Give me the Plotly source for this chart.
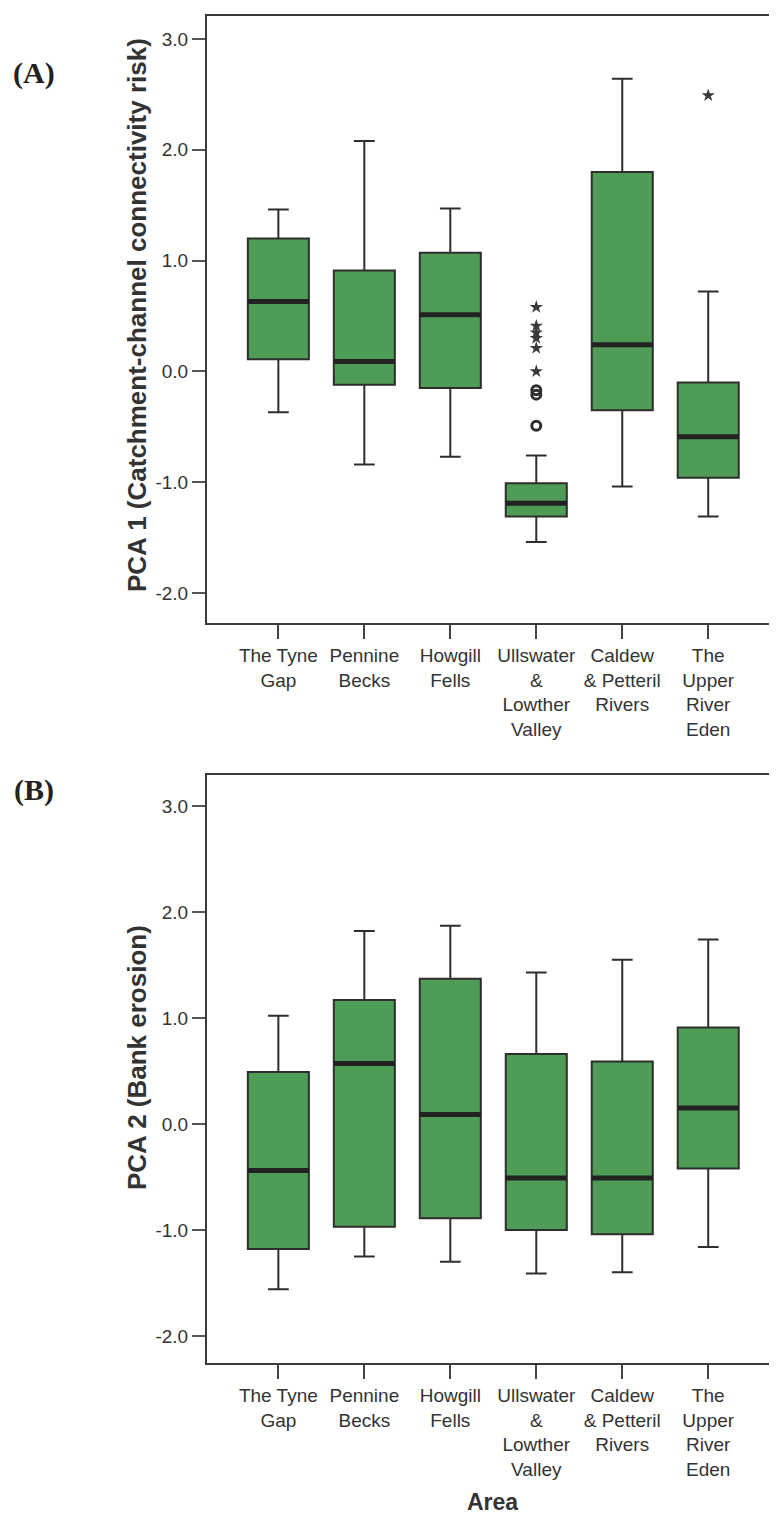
import plotly.graph_objects as go

# categories (x axis)
areas = ["The Tyne<br>Gap", "Pennine<br>Becks", "Howgill<br>Fells",
         "Ullswater<br>&<br>Lowther<br>Valley", "Caldew<br>& Petteril<br>Rivers",
         "The<br>Upper<br>River<br>Eden"]

# panel (A) - PCA 1 box statistics
pca1_low = [-0.37, -0.84, -0.77, -1.54, -1.04, -1.31]
pca1_q1 = [0.11, -0.12, -0.15, -1.31, -0.35, -0.96]
pca1_med = [0.63, 0.09, 0.51, -1.19, 0.24, -0.59]
pca1_q3 = [1.20, 0.91, 1.07, -1.01, 1.80, -0.10]
pca1_high = [1.46, 2.08, 1.47, -0.76, 2.64, 0.72]
# outliers (area index, value)
pca1_circ_idx = [3, 3, 3]
pca1_circ = [-0.49, -0.17, -0.21]
pca1_star_idx = [3, 3, 3, 3, 3, 3, 5]
pca1_star = [0.00, 0.21, 0.30, 0.35, 0.41, 0.58, 2.49]

# panel (B) - PCA 2 box statistics
pca2_low = [-1.56, -1.25, -1.30, -1.41, -1.40, -1.16]
pca2_q1 = [-1.18, -0.97, -0.89, -1.00, -1.04, -0.42]
pca2_med = [-0.44, 0.57, 0.09, -0.51, -0.51, 0.15]
pca2_q3 = [0.49, 1.17, 1.37, 0.66, 0.59, 0.91]
pca2_high = [1.02, 1.82, 1.87, 1.43, 1.55, 1.74]

y_ticks = [-2, -1, 0, 1, 2, 3]
y_labels = [f"{v:.1f}" for v in y_ticks]

GREEN = "#4e9c55"
DARK = "#2e2e2e"
BOXW = 0.71
xs = list(range(len(areas)))

# page body has an 8px margin, so the figure is drawn 8px smaller
W, H = 769, 1514
L = 199          # left margin (plot starts here)
PW = W - L       # plot width


def px_x(x):
    return (x - L) / PW


def px_y(y):
    return 1 - y / H


def box_traces(low, q1, med, q3, high, xa, ya):
    box = go.Box(x=xs, lowerfence=low, q1=q1, median=med, q3=q3, upperfence=high,
                 width=BOXW, whiskerwidth=0.34, fillcolor=GREEN, boxpoints=False,
                 line=dict(color=DARK, width=2), xaxis=xa, yaxis=ya,
                 showlegend=False, hoverinfo="skip")
    mx, my = [], []
    for i, m in zip(xs, med):
        mx += [i - BOXW / 2, i + BOXW / 2, None]
        my += [m, m, None]
    medline = go.Scatter(x=mx, y=my, mode="lines", line=dict(color="#222222", width=5),
                         xaxis=xa, yaxis=ya, showlegend=False, hoverinfo="skip")
    return [box, medline]


data = box_traces(pca1_low, pca1_q1, pca1_med, pca1_q3, pca1_high, "x", "y")
data += box_traces(pca2_low, pca2_q1, pca2_med, pca2_q3, pca2_high, "x2", "y2")
data.append(go.Scatter(x=pca1_circ_idx, y=pca1_circ, mode="markers",
                       marker=dict(symbol="circle-open", size=9, color=DARK, line=dict(width=3)),
                       showlegend=False))
data.append(go.Scatter(x=pca1_star_idx, y=pca1_star, mode="markers",
                       marker=dict(symbol="star", size=10, color="#3a3a3a"),
                       showlegend=False))

tickfont = dict(family="Arial, Liberation Sans", size=19, color="#333333")


def xaxis(anchor):
    return dict(anchor=anchor, domain=[0, 1], range=[-0.83, 5.80],
                tickvals=xs, ticktext=areas, ticks="outside", ticklen=14,
                tickwidth=2, tickcolor="#444444", showline=True, linecolor="#3a3a3a",
                linewidth=2, mirror=True, showgrid=False, zeroline=False, tickfont=tickfont)


def yaxis(anchor, dom, rng):
    return dict(anchor=anchor, domain=dom, range=rng, tickvals=y_ticks, ticktext=y_labels,
                ticks="outside", ticklen=13, tickwidth=2, tickcolor="#555555",
                showline=True, linecolor="#3a3a3a", linewidth=2, showgrid=False,
                zeroline=False, tickfont=tickfont)


serif = dict(family="Liberation Serif, Times New Roman", size=30, color="#222")
sans_b = dict(family="Arial, Liberation Sans", size=26, color="#333")

layout = go.Layout(
    width=W, height=H,
    margin=dict(l=L, r=0, t=0, b=0),
    paper_bgcolor="white", plot_bgcolor="white",
    xaxis=xaxis("y"),
    yaxis=yaxis("x", [px_y(615), px_y(8)], [-2.271, 3.207]),
    xaxis2=xaxis("y2"),
    yaxis2=yaxis("x2", [px_y(1355), px_y(767)], [-2.255, 3.292]),
    annotations=[
        dict(text="<b>(A)</b>", x=px_x(26), y=px_y(65), xref="paper", yref="paper",
             xanchor="center", yanchor="middle", showarrow=False, font=serif),
        dict(text="<b>(B)</b>", x=px_x(26), y=px_y(782), xref="paper", yref="paper",
             xanchor="center", yanchor="middle", showarrow=False, font=serif),
        dict(text="<b>PCA 1 (Catchment-channel connectivity risk)</b>", textangle=-90,
             x=px_x(129), y=px_y(307), xref="paper", yref="paper",
             xanchor="center", yanchor="middle", showarrow=False, font=sans_b),
        dict(text="<b>PCA 2 (Bank erosion)</b>", textangle=-90,
             x=px_x(129), y=px_y(1050), xref="paper", yref="paper",
             xanchor="center", yanchor="middle", showarrow=False, font=sans_b),
        dict(text="<b>Area</b>", x=px_x(484), y=px_y(1494), xref="paper", yref="paper",
             xanchor="center", yanchor="middle", showarrow=False,
             font=dict(family="Arial, Liberation Sans", size=23, color="#333")),
    ],
)

fig = go.Figure(data=data, layout=layout)
fig.write_html("out.html")
